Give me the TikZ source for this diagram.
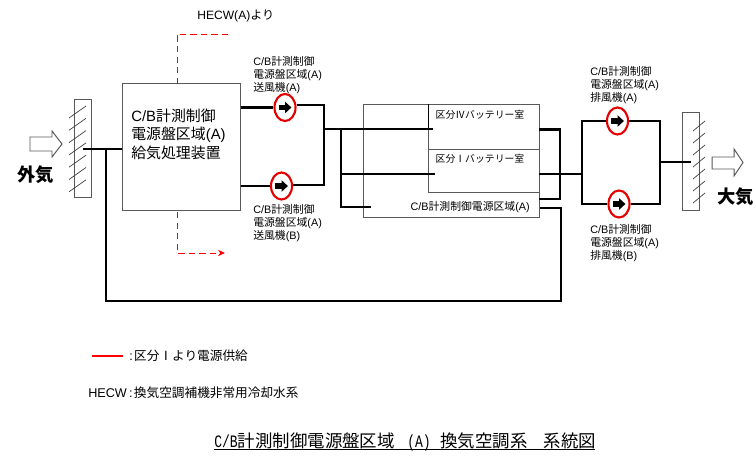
\documentclass[tikz,border=0pt]{standalone}
\usepackage{fontspec}
\setmainfont{Liberation Sans}
\newfontfamily\cjk{Noto Sans CJK JP}
\newfontfamily\titlefont[FakeStretch=0.75]{Liberation Mono}
\newcommand{\jp}[1]{{\cjk #1}}
\usetikzlibrary{shapes.geometric, arrows.meta, positioning, calc}

\begin{document}
\begin{tikzpicture}[
    x=0.025cm, y=-0.025cm,
    % Node and line styles
    unitbox/.style={rectangle, draw=gray!70!black, line width=0.7pt, minimum width=2.925cm, minimum height=3.15cm, inner sep=0},
    louver/.style={rectangle, draw=gray!70!black, line width=0.7pt, minimum width=0.425cm, minimum height=2.425cm, inner sep=0},
    fan/.style={ellipse, draw=red!90!black, fill=white, line width=1.5pt, minimum width=0.525cm, minimum height=0.675cm, inner sep=0},
    duct/.style={line width=1.9pt, line join=miter},
    wall/.style={line width=0.7pt, draw=gray!70!black},
    hatch/.style={line width=0.5pt, draw=black!75},
    hecw/.style={line width=0.6pt, red, dash pattern=on 4.5pt off 3pt},
    fanarrow/.style={-{Triangle[length=4.5pt, width=8pt]}, line width=4pt},
    outflow/.style={line width=0.7pt, draw=gray!70!black, fill=white},
    smalltext/.style={font=\fontsize{7.7}{9.4}\selectfont, align=left, anchor=west, inner sep=0},
    roomtext/.style={font=\fontsize{7}{9.4}\selectfont, inner sep=0},
    legendtext/.style={font=\fontsize{9}{11}\selectfont, anchor=west, inner sep=0},
]
\useasboundingbox (0,0) rectangle (756,459);

% ============================================================================
% OUTSIDE AIR SIDE
% ============================================================================
\node[louver] (intake) at (82.5,148.5) {};
\foreach \y in {118,130.3,142.6,154.9,167.2,179.5,191.8} {
    \draw[hatch] (69,\y) -- (86,\y-12);
}
\draw[outflow] (30,137) -- (52,137) -- (52,131) -- (62,144) -- (52,157) -- (52,151) -- (30,151) -- cycle;
\node[font=\cjk\fontsize{13}{15}\selectfont\bfseries, inner sep=0] (gaikilabel) at (35.5,175) {外気};

% Supply unit
\node[unitbox] (supply) at (181.5,147) {};
\node[font=\fontsize{10.6}{13.2}\selectfont, align=left, anchor=west, inner sep=0] (supplylabel) at (131,134) {
    C/B\jp{計測制御}\\
    \jp{電源盤区域}(A)\\
    \jp{給気処理装置}
};

% HECW lines
\node[font=\fontsize{8.6}{10}\selectfont, anchor=west, inner sep=0] (hecwlabel) at (197,16) {HECW(A)\jp{より}};
\coordinate (hecwtop) at (177,84);
\coordinate (hecwin) at (232,34);
\coordinate (hecwbottom) at (177,212);
\coordinate (hecwout) at (225,253);
\draw[hecw] (hecwtop) -- (hecwtop |- hecwin) -- (hecwin);
\draw[hecw, -{Stealth[length=5pt, width=4.5pt]}] (hecwbottom) -- (hecwbottom |- hecwout) -- (hecwout);

% ============================================================================
% SUPPLY FANS
% ============================================================================
\node[fan] (fansa) at (285,107.5) {};
\node[fan] (fansb) at (281.5,186) {};
\node[smalltext] (fansalabel) at (253,75) {C/B\jp{計測制御}\\\jp{電源盤区域}(A)\\\jp{送風機}(A)};
\node[smalltext] (fansblabel) at (253,223) {C/B\jp{計測制御}\\\jp{電源盤区域}(A)\\\jp{送風機}(B)};

\coordinate (inlet) at (106,149);
\coordinate (supplytop) at (324,105);
\coordinate (supplybottom) at (324,185);
\coordinate (supplyjoin) at (324,129);
\coordinate (roomjoin) at (341,129);
\coordinate (returnend) at (540,208);

\draw[duct] (intake.center |- inlet) -- (supply.west |- inlet);
\draw[duct] (inlet) -- (106,301) -- (561,301) -- (561,208) -- (returnend);
\draw[duct] (supply.east |- fansa) -- (fansa.west);
\draw[duct] (supply.east |- fansb) -- (fansb.west);
\draw[duct] (fansa.east |- supplytop) -- (supplytop) -- (supplybottom) -- (fansb.east |- supplybottom);

% ============================================================================
% ROOMS
% ============================================================================
\draw[wall] (363,104) rectangle (539,217);
\draw[wall] (428,129) -- (428,192) -- (539,192);
\draw[wall] (428,149) -- (539,149);
\draw[line width=0.7pt] (428,104) -- (428,129);
\node[roomtext] (room4label) at (480,115) {\jp{区分Ⅳバッテリー室}};
\node[roomtext] (room1label) at (480,159) {\jp{区分Ⅰバッテリー室}};
\node[roomtext, font=\fontsize{7.7}{9.4}\selectfont, anchor=east] (ctrllabel) at (530,207) {C/B\jp{計測制御電源区域}(A)};

\coordinate (room4in) at (433,129);
\coordinate (room1in) at (435,174);
\coordinate (ctrlin) at (371,207);
\draw[duct] (supplyjoin) -- (room4in);
\draw[duct] (roomjoin) -- (roomjoin |- ctrlin) -- (ctrlin);
\draw[duct] (roomjoin |- room1in) -- (room1in);

% Room outlets
\coordinate (room4out) at (539,129.5);
\coordinate (ctrlout) at (539,199);
\coordinate (room1out) at (539,174);
\coordinate (exhaustjoin) at (582,174);
\draw[duct] (room4out) -- (560,129.5) -- (560,199) -- (ctrlout);
\draw[duct] (room1out) -- (exhaustjoin);

% ============================================================================
% EXHAUST FANS
% ============================================================================
\node[fan] (fanea) at (617.5,121) {};
\node[fan] (faneb) at (619,204) {};
\node[smalltext] (fanealabel) at (590,85) {C/B\jp{計測制御}\\\jp{電源盤区域}(A)\\\jp{排風機}(A)};
\node[smalltext] (faneblabel) at (590,243) {C/B\jp{計測制御}\\\jp{電源盤区域}(A)\\\jp{排風機}(B)};

\draw[duct] (fanea.west) -- (582,121) -- (582,204) -- (faneb.west);
\draw[duct] (fanea.east) -- (660,121) -- (660,204) -- (faneb.east);

% Fan arrows
\foreach \f in {fansa, fansb, fanea, faneb} {
    \draw[fanarrow] ([xshift=-0.16cm]\f.center) -- ([xshift=0.16cm]\f.center);
}

% ============================================================================
% EXHAUST SIDE
% ============================================================================
\node[louver] (outlet) at (691,161.5) {};
\foreach \y in {131,143,155,167,179,191,203} {
    \draw[hatch] (693,\y) -- (705,\y-10);
}
\draw[duct] (660,162) -- (outlet.center |- 0,162);
\draw[outflow] (712,157) -- (734,157) -- (734,149) -- (743,162.5) -- (734,176) -- (734,169) -- (712,169) -- cycle;
\node[font=\cjk\fontsize{13}{15}\selectfont\bfseries, inner sep=0] (taikilabel) at (735.5,197) {大気};

% ============================================================================
% LEGEND AND TITLE
% ============================================================================
\coordinate (legendleft) at (92,356);
\coordinate (legendright) at (123,356);
\draw[line width=1.5pt, red] (legendleft) -- (legendright);
\node[legendtext] (legendpower) at (129,356) {:\hspace{1pt}\jp{区分Ⅰより電源供給}};
\node[legendtext] (legendhecw) at (88,393) {HECW\hspace{1.5pt}:\hspace{1pt}\jp{換気空調補機非常用冷却水系}};
\node[font=\fontsize{12.4}{15}\selectfont, anchor=west, inner sep=0] (title) at (214,442) {\titlefont C/B\jp{計測制御電源盤区域}\hspace{8.9pt}(A)\hspace{6.8pt}\jp{換気空調系}\hspace{11.4pt}\jp{系統図}};
\draw[line width=0.6pt] (title.west |- 0,449.5) -- (595,449.5);

\end{tikzpicture}
\end{document}
